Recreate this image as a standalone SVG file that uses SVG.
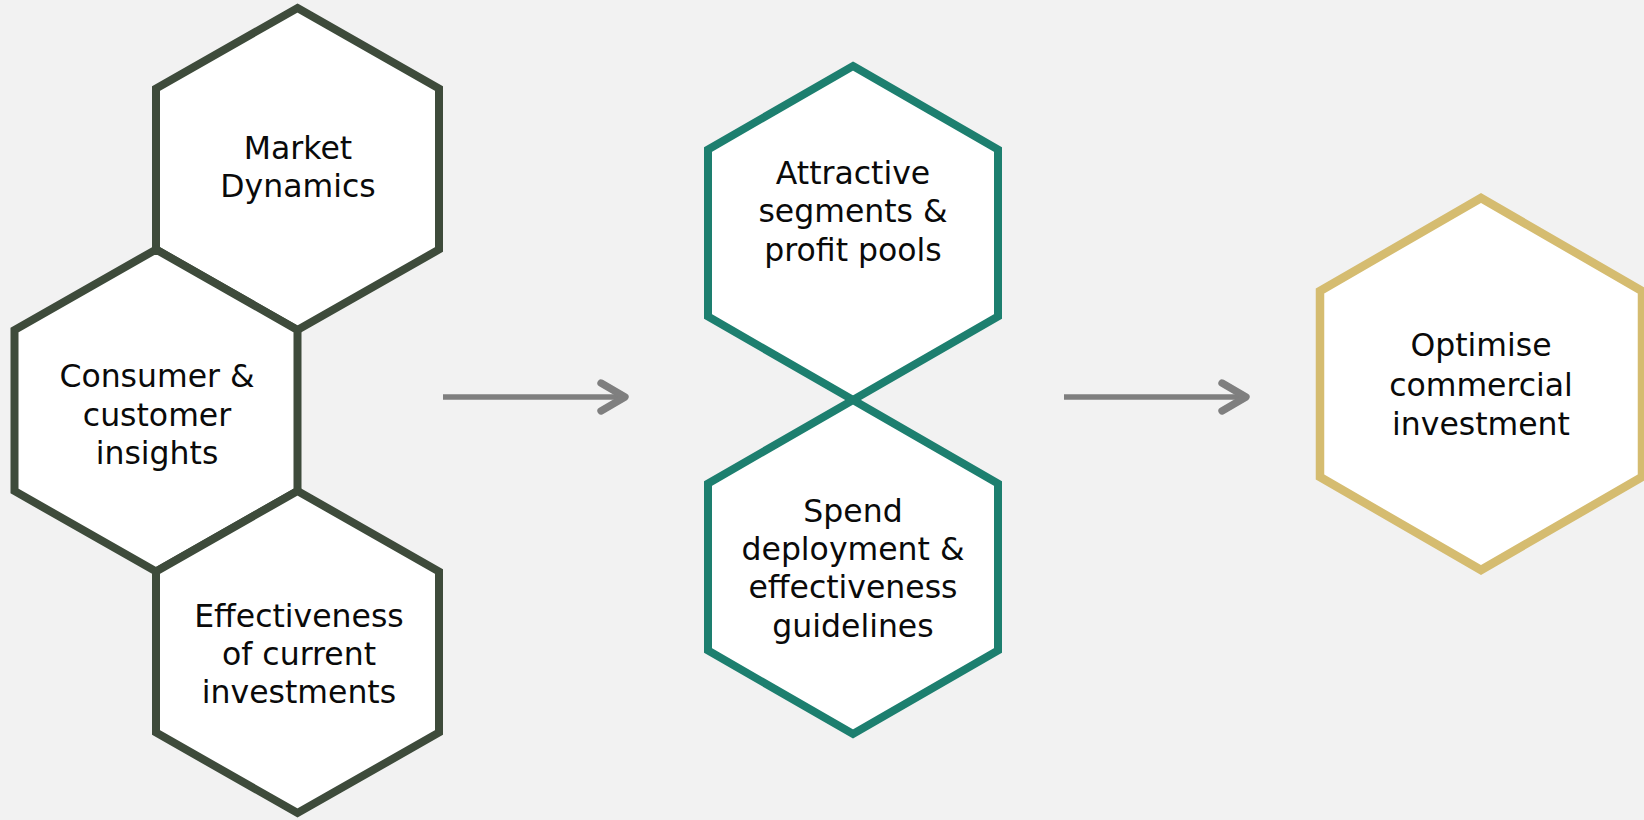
<svg xmlns="http://www.w3.org/2000/svg" width="1644" height="820" viewBox="0 0 1644 820">
  <style>
    .hex { fill: #ffffff; stroke-width: 8; stroke-linejoin: miter; }
    .dark { stroke: #3e4b3b; }
    .teal { stroke: #1d7f6f; stroke-width: 8; }
    .gold { stroke: #d5bc70; stroke-width: 8.5; }
    .label { font-family: "DejaVu Sans", Verdana, sans-serif; font-size: 31.5px; fill: #0a0a0a; text-anchor: middle; }
    .link { stroke: #7f7f7f; stroke-width: 5.5; fill: none; }
  </style>
  <defs>
    <marker id="chevron" markerUnits="userSpaceOnUse" markerWidth="40" markerHeight="40" viewBox="-25 -15 30 30" refX="0" refY="0" orient="auto" overflow="visible">
      <path d="M-18,-10.5 L0,0 L-18,10.5" fill="none" stroke="#7f7f7f" stroke-width="5.5" stroke-linecap="round" stroke-linejoin="round"/>
    </marker>
  </defs>

  <rect x="0" y="0" width="1644" height="820" fill="#f2f2f2"/>

  <!-- inputs: three tiled hexagons (w = 141.5, R = 161) -->
  <g id="market-dynamics">
    <polygon class="hex dark" transform="translate(297.5 169)" points="0,-161 141.5,-80.5 141.5,80.5 0,161 -141.5,80.5 -141.5,-80.5"/>
    <text class="label" x="298" y="159">Market</text>
    <text class="label" x="298" y="197">Dynamics</text>
  </g>
  <g id="consumer-insights">
    <polygon class="hex dark" transform="translate(156 410.5)" points="0,-161 141.5,-80.5 141.5,80.5 0,161 -141.5,80.5 -141.5,-80.5"/>
    <text class="label" x="157" y="387">Consumer &amp;</text>
    <text class="label" x="157" y="425.5">customer</text>
    <text class="label" x="157" y="464">insights</text>
  </g>
  <g id="current-effectiveness">
    <polygon class="hex dark" transform="translate(297.5 652)" points="0,-161 141.5,-80.5 141.5,80.5 0,161 -141.5,80.5 -141.5,-80.5"/>
    <text class="label" x="299" y="626.5">Effectiveness</text>
    <text class="label" x="299" y="664.5">of current</text>
    <text class="label" x="299" y="702.5">investments</text>
  </g>

  <!-- analysis: two hexagons touching point to point -->
  <g id="attractive-segments">
    <polygon class="hex teal" transform="translate(853 233)" points="0,-167 145,-83.5 145,83.5 0,167 -145,83.5 -145,-83.5"/>
    <text class="label" x="853" y="183.5">Attractive</text>
    <text class="label" x="853" y="222">segments &amp;</text>
    <text class="label" x="853" y="260.5">profit pools</text>
  </g>
  <g id="spend-guidelines">
    <polygon class="hex teal" transform="translate(853 567)" points="0,-167 145,-83.5 145,83.5 0,167 -145,83.5 -145,-83.5"/>
    <text class="label" x="853" y="521.5">Spend</text>
    <text class="label" x="853" y="560">deployment &amp;</text>
    <text class="label" x="853" y="598">effectiveness</text>
    <text class="label" x="853" y="636.5">guidelines</text>
  </g>

  <!-- outcome -->
  <g id="optimise-investment">
    <polygon class="hex gold" transform="translate(1481 384)" points="0,-186 161,-93 161,93 0,186 -161,93 -161,-93"/>
    <text class="label" x="1481" y="356">Optimise</text>
    <text class="label" x="1481" y="395.5">commercial</text>
    <text class="label" x="1481" y="435">investment</text>
  </g>

  <g id="connectors">
    <line class="link" x1="443" y1="397" x2="625" y2="397" marker-end="url(#chevron)"/>
    <line class="link" x1="1064" y1="397" x2="1246" y2="397" marker-end="url(#chevron)"/>
  </g>
</svg>
